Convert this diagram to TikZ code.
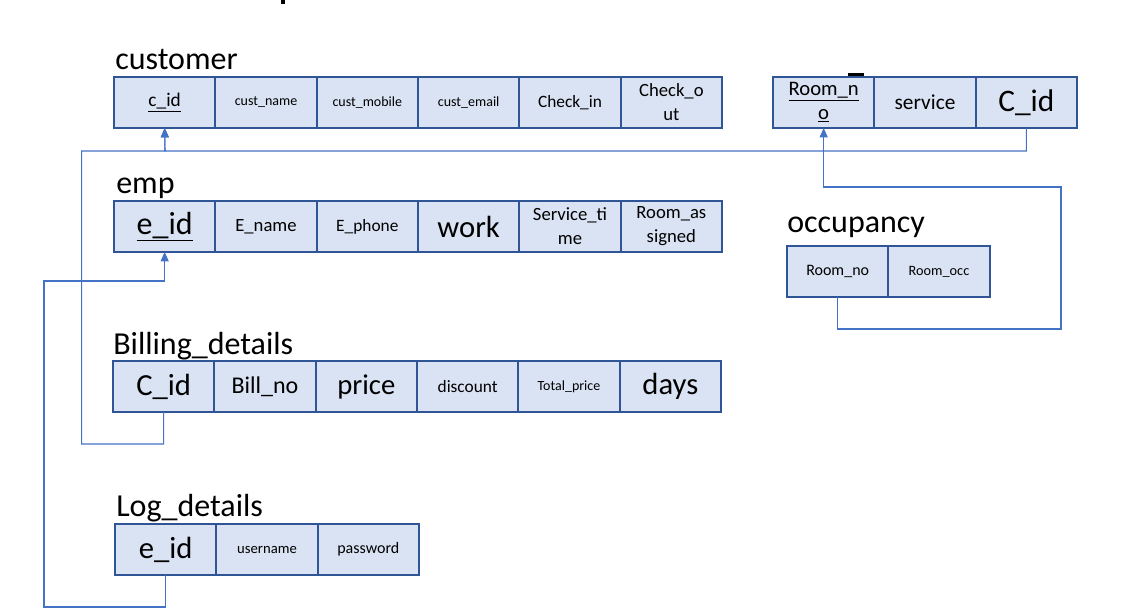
\documentclass[tikz,border=0pt]{standalone}
\usepackage{fontspec}
\setmainfont{Carlito}
\usetikzlibrary{positioning, arrows.meta}
\definecolor{cellfill}{HTML}{DAE3F3}
\definecolor{celldraw}{HTML}{2F5597}
\definecolor{linkblue}{HTML}{4472C4}
\tikzset{
  cell/.style={draw=celldraw, fill=cellfill, line width=1.6pt, minimum width=76pt, minimum height=38.25pt, inner sep=1pt, outer sep=0pt, align=center}, % one attribute box
  sz/.style={font=\fontsize{#1}{18}\selectfont}, % text size inside a box
  title/.style={anchor=base west, inner sep=0pt, font=\fontsize{24}{27}\selectfont},
  link/.style={draw=linkblue, line width=0.8pt},
  fk/.style={link, -{Triangle[length=7pt,width=6pt]}}, % foreign key -> key
}

\begin{document}
\begin{tikzpicture}[x=0.75pt, y=-0.75pt]
  \useasboundingbox (0,0) rectangle (1126,616);
  \fill (281,0) rectangle (285,4);

  % customer
  \node[title] (customer) at (115,70) {customer};
  \node[cell, anchor=north west, sz=14.5] (c-id) at (114,77) {\underline{c\_id}};
  \node[cell, right=0pt of c-id, sz=10.5] (c-name) {cust\_name};
  \node[cell, right=0pt of c-name, sz=10.5] (c-mobile) {cust\_mobile};
  \node[cell, right=0pt of c-mobile, sz=10.5] (c-email) {cust\_email};
  \node[cell, right=0pt of c-email, sz=13] (c-in) {Check\_in};
  \node[cell, right=0pt of c-in, sz=14] (c-out) {Check\_o\\ut};

  % room service
  \fill (848,73) rectangle (864,76);
  \node[cell, anchor=north west, sz=15.5] (r-no) at (773,77) {\underline{Room\_n}\\\underline{o}};
  \node[cell, right=0pt of r-no, sz=16] (r-service) {service};
  \node[cell, right=0pt of r-service, sz=23.5] (r-cid) {C\_id};

  % emp
  \node[title] (emp) at (116,194) {emp};
  \node[cell, anchor=north west, sz=24] (e-id) at (114,201) {\underline{e\_id}};
  \node[cell, right=0pt of e-id, sz=14] (e-name) {E\_name};
  \node[cell, right=0pt of e-name, sz=13] (e-phone) {E\_phone};
  \node[cell, right=0pt of e-phone, sz=23] (e-work) {work};
  \node[cell, right=0pt of e-work, sz=14] (e-time) {Service\_ti\\me};
  \node[cell, right=0pt of e-time, sz=14] (e-room) {Room\_as\\signed};

  % occupancy
  \node[title] (occupancy) at (787,233) {occupancy};
  \node[cell, anchor=north west, sz=12] (o-no) at (787,246) {Room\_no};
  \node[cell, right=0pt of o-no, sz=10.7] (o-occ) {Room\_occ};

  % Billing_details
  \node[title] (billing) at (113,354) {Billing\_details};
  \node[cell, anchor=north west, sz=23] (b-cid) at (113,361) {C\_id};
  \node[cell, right=0pt of b-cid, sz=18] (b-no) {Bill\_no};
  \node[cell, right=0pt of b-no, sz=21.5] (b-price) {price};
  \node[cell, right=0pt of b-price, sz=13] (b-disc) {discount};
  \node[cell, right=0pt of b-disc, sz=10.5] (b-total) {Total\_price};
  \node[cell, right=0pt of b-total, sz=23] (b-days) {days};

  % Log_details
  \node[title] (log) at (116,516) {Log\_details};
  \node[cell, anchor=north west, sz=23] (l-eid) at (115,524) {e\_id};
  \node[cell, right=0pt of l-eid, sz=11] (l-user) {username};
  \node[cell, right=0pt of l-user, sz=12] (l-pass) {password};

  % links
  \coordinate (cust-bus) at (165,151);
  \coordinate (occ-turn) at (1061,187);
  \coordinate (emp-turn) at (44,281);
  \draw[fk] (r-cid.south) |- (cust-bus) -- (c-id.south);
  \draw[fk] (b-cid.south) |- ++(-82,32) |- (cust-bus) -- (c-id.south);
  \draw[fk] (o-no.south) -- ++(0,32) -| (occ-turn) -| (r-no.south);
  \draw[fk] (l-eid.south) -- ++(0,32) -| (emp-turn) -| (e-id.south);
\end{tikzpicture}
\end{document}
